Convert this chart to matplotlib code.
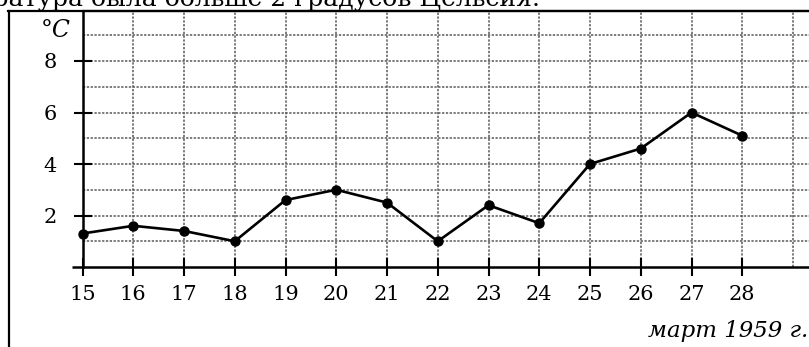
import matplotlib
matplotlib.use("Agg")
import matplotlib.pyplot as plt
from matplotlib.lines import Line2D

# Daily temperature, March 1959
days = [15, 16, 17, 18, 19, 20, 21, 22, 23, 24, 25, 26, 27, 28]
temps = [1.3, 1.6, 1.4, 1.0, 2.6, 3.0, 2.5, 1.0, 2.4, 1.7, 4.0, 4.6, 6.0, 5.1]
y_ticks = [2, 4, 6, 8]
x_ticks = days
x_label = "март 1959 г."
y_unit = "°C"
caption = "температура была больше 2 градусов Цельсия."

W, H = 809, 347
plt.rcParams["font.family"] = ["DejaVu Serif"]
fig = plt.figure(figsize=(W / 100, H / 100), dpi=100)

# axes placement in pixels
x0_px, y0_px, top_px = 82.5, 267.0, 11.0
px_per_day, px_per_deg = 50.75, 25.75
ax = fig.add_axes([x0_px / W, (H - y0_px) / H, (W - x0_px) / W, (y0_px - top_px) / H])
ax.set_xlim(15, 15 + (W - x0_px) / px_per_day)
ax.set_ylim(0, (y0_px - top_px) / px_per_deg)

# grid every unit
ax.set_xticks(x_ticks)
ax.set_xticks(list(range(16, 30)), minor=True)
ax.set_yticks(y_ticks)
ax.set_yticks(list(range(1, 10)), minor=True)
ax.grid(which="both", color="0.35", linestyle=(0, (1.5, 1.0)), linewidth=1.1)
ax.set_axisbelow(True)

ax.tick_params(which="major", direction="inout", length=13.5, width=1.5,
               labelsize=15, color="black")
ax.tick_params(axis="x", which="major", pad=6.5)
ax.tick_params(axis="y", which="major", pad=12)
ax.tick_params(which="minor", length=0)

ax.spines["right"].set_visible(False)
for side in ("left", "bottom"):
    ax.spines[side].set_linewidth(1.8)
ax.spines["top"].set_linewidth(1.6)

# x-axis line continues slightly left of the y-axis
ax.plot([-10.5 / (W - x0_px), 0], [0, 0], transform=ax.transAxes,
        color="black", lw=1.8, clip_on=False, solid_capstyle="butt")

ax.plot(days, temps, color="black", lw=1.9, marker="o", markersize=6.5,
        zorder=5, clip_on=False)

ax.text(14.48, 9.2, y_unit, fontsize=17, style="italic", ha="center",
        va="center", clip_on=False)

# outer frame
fig.add_artist(Line2D([8 / W, 1], [1 - top_px / H] * 2, color="black", lw=1.6))
fig.add_artist(Line2D([8.5 / W] * 2, [0, 1 - top_px / H], color="black", lw=1.6))

fig.text(808 / W, 1 - 337 / H, x_label, ha="right", va="baseline",
         fontsize=16.5, style="italic")
fig.text(540 / W, 1 - 6 / H, caption, ha="right", va="baseline", fontsize=18)

fig.savefig("out.png", dpi=100)
